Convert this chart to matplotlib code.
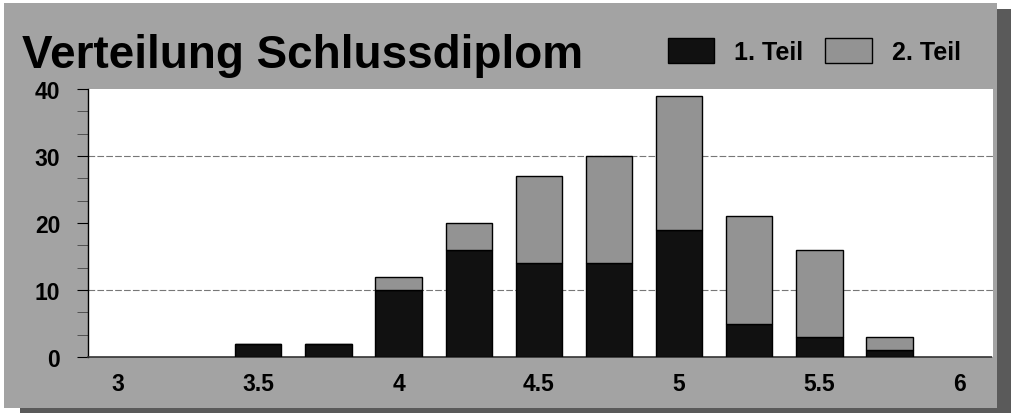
import matplotlib.pyplot as plt
from matplotlib.patches import Rectangle
from matplotlib.ticker import MultipleLocator

# notes (Schlussdiplom) and counts per part
grades = [3.5, 3.75, 4.0, 4.25, 4.5, 4.75, 5.0, 5.25, 5.5, 5.75]
teil1 = [2, 2, 10, 16, 14, 14, 19, 5, 3, 1]
teil2 = [0, 0, 2, 4, 13, 16, 20, 16, 13, 2]
xticks = [3, 3.5, 4, 4.5, 5, 5.5, 6]
xtick_labels = ['3', '3.5', '4', '4.5', '5', '5.5', '6']
yticks = [0, 10, 20, 30, 40]
grid_lines = [10, 30]

panel_gray = '#a3a3a3'
bar_gray = '#939393'
shadow_gray = '#5a5a5a'
font = 'Liberation Sans'

fig = plt.figure(figsize=(10.11, 4.14), dpi=100, facecolor='white')

# drop shadow + dithered-looking panel
fig.patches.append(Rectangle((0.02, 0.0), 0.98, 0.975, transform=fig.transFigure,
                             facecolor=shadow_gray, edgecolor='none', zorder=-3))
fig.patches.append(Rectangle((0.004, 0.012), 0.982, 0.978, transform=fig.transFigure,
                             facecolor=panel_gray, edgecolor='none', zorder=-2))

ax = fig.add_axes([0.087, 0.135, 0.895, 0.648])
ax.set_facecolor('white')

b1 = ax.bar(grades, teil1, width=0.165, color='#111111', edgecolor='black', linewidth=1, zorder=3)
b2 = ax.bar(grades, teil2, width=0.165, bottom=teil1, color=bar_gray, edgecolor='black',
            linewidth=1, zorder=3)

tick_font = {'family': font, 'size': 16.5, 'weight': 'bold'}
ax.set_xlim(2.893, 6.118)
ax.set_ylim(0, 40)
ax.set_xticks(xticks)
ax.set_xticklabels(xtick_labels, fontdict=tick_font)
ax.set_yticks(yticks)
ax.set_yticklabels([str(v) for v in yticks], fontdict=tick_font)
ax.yaxis.set_minor_locator(MultipleLocator(10 / 3))
ax.tick_params(axis='x', length=0, pad=11)
ax.tick_params(axis='y', which='major', length=8, width=0.8, pad=12, direction='out')
ax.tick_params(axis='y', which='minor', length=8, width=0.6, direction='out', color='#444444')

for g in grid_lines:
    ax.axhline(g, color='#777777', linewidth=0.8, linestyle=(0, (6, 2)), zorder=1)
for s in ['top', 'right']:
    ax.spines[s].set_visible(False)
ax.spines['left'].set_linewidth(1.0)
ax.spines['bottom'].set_linewidth(1.2)
ax.spines['bottom'].set_linestyle((0, (2, 1)))
ax.spines['bottom'].set_color('#333333')

fig.text(0.022, 0.835, 'Verteilung Schlussdiplom', fontsize=33, fontweight='bold',
         family=font, ha='left', va='baseline')

fig.legend([b1, b2], ['1. Teil', '2. Teil'], loc='center left', bbox_to_anchor=(0.638, 0.875),
           ncol=2, frameon=False, handlelength=1.85, handleheight=1.2,
           handletextpad=0.8, columnspacing=0.9,
           prop={'family': font, 'size': 18, 'weight': 'bold'})

fig.savefig('out.png', dpi=100, facecolor=fig.get_facecolor())
